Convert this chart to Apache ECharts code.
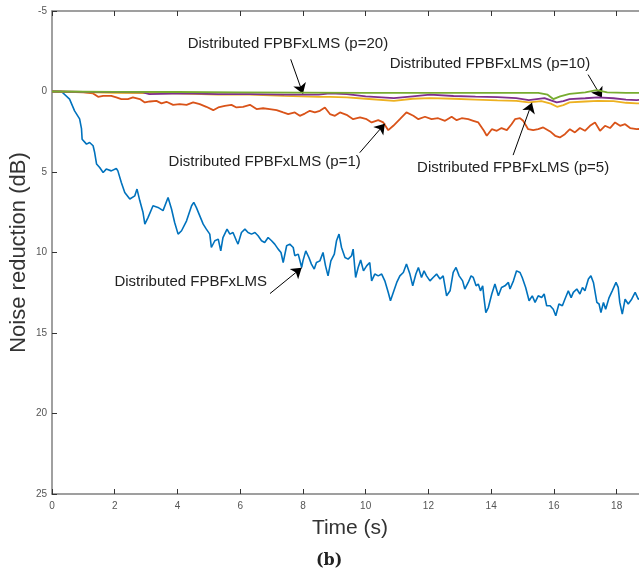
<!DOCTYPE html>
<html><head><meta charset="utf-8">
<script src="https://cdn.jsdelivr.net/npm/echarts@6/dist/echarts.min.js"></script>
<style>html,body{margin:0;padding:0;background:#fff}#c{width:639px;height:578px}</style>
</head><body><div id="c"></div>
<script>
// x axis: Time (s), y axis: Noise reduction (dB), inverted
const xTicks = [0,2,4,6,8,10,12,14,16,18];
const yTicks = [-5,0,5,10,15,20,25];

const blueData = [[0,0],[0.3,0],[0.56,0.47],[0.72,1.2],[0.88,1.7],[0.94,2.3],[0.96,2.96],[1.1,3.27],[1.2,3.17],[1.31,3.37],[1.36,3.79],[1.42,4.5],[1.52,4.72],[1.63,5.03],[1.73,4.82],[1.89,4.93],[2.05,4.78],[2.1,4.93],[2.21,5.65],[2.32,6.27],[2.48,6.68],[2.64,6.48],[2.71,6.06],[2.8,6.79],[2.9,7.5],[2.96,8.24],[3.06,7.83],[3.22,7.1],[3.38,7.2],[3.54,7.4],[3.7,6.58],[3.81,7.3],[3.91,8.14],[4.02,8.86],[4.13,8.65],[4.29,8.03],[4.45,7.1],[4.52,6.89],[4.6,7.2],[4.66,7.1],[4.82,8.24],[4.92,8.55],[5.03,8.86],[5.08,9.69],[5.19,9.27],[5.3,9.17],[5.38,9.9],[5.45,9.07],[5.58,8.55],[5.67,8.86],[5.77,8.76],[5.88,9.27],[5.93,9.48],[6.04,8.76],[6.15,8.55],[6.25,8.76],[6.36,8.86],[6.47,8.76],[6.57,8.96],[6.68,9.27],[6.78,9.38],[6.89,9.07],[7.0,9.27],[7.1,9.48],[7.21,9.79],[7.3,10.0],[7.37,10.62],[7.48,9.58],[7.58,9.48],[7.69,9.69],[7.74,10.2],[7.85,10.1],[7.96,10.93],[8.0,10.52],[8.09,9.9],[8.19,10.31],[8.27,10.72],[8.36,11.03],[8.43,10.62],[8.54,10.52],[8.64,10.0],[8.72,10.83],[8.8,11.45],[8.89,10.52],[9.0,10.1],[9.07,9.27],[9.15,8.86],[9.23,9.69],[9.34,10.31],[9.44,10.41],[9.55,10.2],[9.6,9.79],[9.68,11.55],[9.76,10.93],[9.84,10.47],[9.93,11.14],[10.03,10.83],[10.13,10.62],[10.19,11.76],[10.29,11.34],[10.4,11.45],[10.51,11.34],[10.61,11.76],[10.72,12.48],[10.79,13.0],[10.88,12.48],[10.99,11.86],[11.09,11.45],[11.2,11.24],[11.3,10.72],[11.41,11.34],[11.5,12.07],[11.6,11.34],[11.68,10.93],[11.78,11.55],[11.86,11.14],[11.94,11.45],[12.05,11.76],[12.15,11.55],[12.26,11.34],[12.37,11.65],[12.47,11.45],[12.58,12.69],[12.69,12.38],[12.79,11.24],[12.88,10.93],[12.98,11.45],[13.09,11.76],[13.16,12.27],[13.27,11.86],[13.36,11.45],[13.43,11.55],[13.52,12.07],[13.59,11.96],[13.66,12.38],[13.73,12.07],[13.77,12.8],[13.83,13.73],[13.91,13.42],[14.02,12.58],[14.12,11.96],[14.23,12.69],[14.33,12.17],[14.44,12.07],[14.55,11.86],[14.6,12.27],[14.71,11.76],[14.81,11.14],[14.92,11.24],[14.99,11.55],[15.1,12.17],[15.21,13.0],[15.31,12.69],[15.4,13.1],[15.5,12.69],[15.61,12.8],[15.69,12.58],[15.77,13.31],[15.88,13.31],[15.98,13.52],[16.06,13.93],[16.16,13.2],[16.27,13.31],[16.35,12.9],[16.46,12.38],[16.55,12.8],[16.62,12.48],[16.73,12.27],[16.83,12.58],[16.91,12.17],[16.99,12.38],[17.1,11.65],[17.18,11.45],[17.26,11.86],[17.37,13.1],[17.44,13.2],[17.5,13.73],[17.58,13.1],[17.65,13.52],[17.76,12.8],[17.86,12.38],[17.98,11.86],[18.05,12.17],[18.1,13.1],[18.18,13.83],[18.27,12.9],[18.37,13.2],[18.48,12.9],[18.59,12.48],[18.69,12.9],[18.9,12.7]];

const p1Data = [[0,0],[0.5,0.02],[1.0,0.05],[1.31,0.12],[1.47,0.33],[1.63,0.27],[1.89,0.27],[2.05,0.37],[2.21,0.47],[2.42,0.47],[2.58,0.37],[2.8,0.47],[2.96,0.68],[3.12,0.62],[3.33,0.58],[3.49,0.74],[3.65,0.64],[3.86,0.83],[4.07,0.78],[4.29,0.83],[4.5,0.68],[4.71,0.78],[4.92,0.95],[5.14,1.16],[5.3,0.99],[5.51,0.89],[5.72,0.83],[5.88,0.99],[6.09,0.95],[6.31,0.83],[6.52,1.09],[6.73,1.04],[6.94,1.09],[7.16,1.16],[7.37,1.3],[7.53,1.4],[7.74,1.3],[7.9,1.51],[8.06,1.37],[8.22,1.2],[8.38,1.3],[8.54,1.2],[8.7,0.99],[8.86,1.4],[9.02,1.51],[9.18,1.3],[9.39,1.45],[9.6,1.72],[9.82,1.61],[10.03,1.72],[10.19,1.92],[10.4,1.78],[10.56,1.92],[10.72,2.4],[10.88,2.13],[11.09,1.72],[11.3,1.3],[11.52,1.51],[11.68,1.72],[11.89,1.57],[12.1,1.72],[12.31,1.66],[12.53,1.82],[12.74,1.57],[12.9,1.78],[13.06,1.66],[13.27,1.72],[13.43,1.82],[13.59,1.92],[13.77,2.44],[13.86,2.75],[14.02,2.34],[14.18,2.44],[14.33,2.27],[14.5,2.4],[14.65,2.03],[14.76,1.72],[14.92,1.66],[15.02,1.82],[15.18,2.34],[15.34,2.4],[15.5,2.34],[15.66,2.23],[15.88,2.48],[16.04,2.75],[16.19,2.85],[16.35,2.65],[16.51,2.34],[16.67,2.54],[16.83,2.27],[16.99,2.44],[17.15,2.13],[17.31,1.92],[17.47,2.44],[17.63,2.13],[17.79,2.27],[17.95,1.92],[18.11,2.13],[18.27,2.03],[18.43,2.27],[18.64,2.34],[18.9,2.3]];

const p5Data = [[0,0],[1,0.03],[2,0.08],[3,0.1],[4,0.12],[5,0.18],[5.3,0.2],[6.3,0.2],[7.4,0.27],[8.5,0.33],[8.86,0.33],[9.4,0.37],[10,0.45],[10.9,0.58],[11.5,0.45],[12.05,0.41],[12.8,0.45],[13.5,0.5],[14.2,0.55],[14.8,0.58],[15.2,0.68],[15.6,0.6],[15.9,0.75],[16.1,0.95],[16.3,0.85],[16.5,0.68],[17,0.62],[17.4,0.58],[17.9,0.6],[18.3,0.7],[18.64,0.74],[18.9,0.72]];

const p10Data = [[0,0],[1,0.02],[2,0.04],[2.9,0.06],[3.1,0.16],[4.2,0.12],[5.3,0.16],[6.3,0.16],[7.4,0.2],[8.5,0.2],[8.86,0.12],[9.4,0.16],[10,0.3],[10.9,0.41],[11.5,0.3],[12.05,0.2],[12.8,0.28],[13.5,0.32],[14.2,0.35],[14.8,0.41],[15.2,0.53],[15.7,0.41],[16.09,0.68],[16.3,0.6],[16.5,0.47],[17,0.42],[17.4,0.37],[17.9,0.42],[18.3,0.5],[18.64,0.53],[18.9,0.5]];

const p20Data = [[0,0],[2,0.02],[4,0.03],[6,0.05],[8,0.07],[10,0.08],[12,0.08],[14,0.08],[15.5,0.08],[15.8,0.2],[15.98,0.47],[16.2,0.3],[16.5,0.15],[17,0.05],[17.36,-0.09],[17.7,0.05],[18.3,0.08],[18.9,0.08]];

const labelTexts = ['Distributed FPBFxLMS (p=20)','Distributed FPBFxLMS (p=10)','Distributed FPBFxLMS (p=1)','Distributed FPBFxLMS (p=5)','Distributed FPBFxLMS'];
const labelPos = [[7.52,-2.96],[13.96,-1.72],[6.78,4.37],[14.7,4.74],[4.42,11.82]];
const arrowFrom = [[7.61,-2.0],[17.09,-1.05],[9.81,3.8],[14.7,3.95],[6.95,12.55]];
const arrowTo = [[8.0,0.14],[17.53,0.39],[10.61,2.0],[15.3,0.7],[7.96,10.95]];

const FONT = '"Liberation Sans", Arial, Helvetica, sans-serif';
const chart = echarts.init(document.getElementById('c'), null, {renderer:'canvas'});

function line(name, data, color, w, z){
  return {name, type:'line', data, showSymbol:false, symbol:'none', z,
    lineStyle:{color, width:w}, itemStyle:{color}, animation:false};
}

const axisCommonX = {type:'value', min:0, max:19, interval:2};
chart.setOption({
  animation:false,
  grid:{left:52, top:11, right:-9, bottom:84, outerBoundsMode:'none', containLabel:false},
  xAxis:[
    Object.assign({}, axisCommonX, {position:'bottom',
      name:'Time (s)', nameLocation:'middle', nameGap:24,
      nameTextStyle:{fontSize:21, color:'#333', fontFamily:FONT},
      axisLine:{show:true, onZero:false, lineStyle:{color:'#808080', width:1.5}},
      axisTick:{show:true, inside:true, length:5, lineStyle:{color:'#333'}},
      axisLabel:{show:true, fontSize:10, color:'#555', margin:7, fontFamily:FONT, showMaxLabel:false},
      splitLine:{show:false}}),
    Object.assign({}, axisCommonX, {position:'top',
      axisLine:{show:true, onZero:false, lineStyle:{color:'#808080', width:1.5}},
      axisTick:{show:true, inside:true, length:5, lineStyle:{color:'#333'}},
      axisLabel:{show:false}, splitLine:{show:false}})
  ],
  yAxis:[{type:'value', min:-5, max:25, interval:5, inverse:true, position:'left',
    name:'Noise reduction (dB)', nameLocation:'middle', nameGap:22, nameMoveOverlap:false,
    nameTextStyle:{fontSize:22, color:'#333', fontFamily:FONT},
    axisLine:{show:true, onZero:false, lineStyle:{color:'#808080', width:1.5}},
    axisTick:{show:true, inside:true, length:5, lineStyle:{color:'#333'}},
    axisLabel:{show:true, fontSize:10, color:'#555', margin:5, fontFamily:FONT},
    splitLine:{show:false}}],
  series:[
    line('Distributed FPBFxLMS', blueData, '#0072BD', 1.6, 2),
    line('p=1', p1Data, '#D95319', 1.8, 3),
    line('p=5', p5Data, '#EDB120', 1.8, 4),
    line('p=10', p10Data, '#7E2F8E', 1.8, 5),
    line('p=20', p20Data, '#77AC30', 1.8, 6),
    {name:'annot', type:'line', data:[[0,0]], showSymbol:false, symbol:'none', z:10,
      lineStyle:{width:0, opacity:0}, silent:true,
      markLine:{silent:true, symbol:['none','arrow'], symbolSize:10, animation:false,
        lineStyle:{color:'#000', width:1, type:'solid'}, label:{show:false},
        data: arrowFrom.map((f,i)=>[{coord:f},{coord:arrowTo[i]}])},
      markPoint:{silent:true, symbol:'circle', symbolSize:0, animation:false,
        label:{show:true, position:'inside', color:'#222', fontSize:15, fontFamily:FONT,
          formatter:(p)=>p.name},
        data: labelTexts.map((t,i)=>({name:t, coord:labelPos[i], value:0}))}
    }
  ],
  graphic:[{type:'text', left:316, top:553, style:{text:'(b)', font:'bold 16px "DejaVu Serif", serif', fill:'#222'}}]
});
</script></body></html>
